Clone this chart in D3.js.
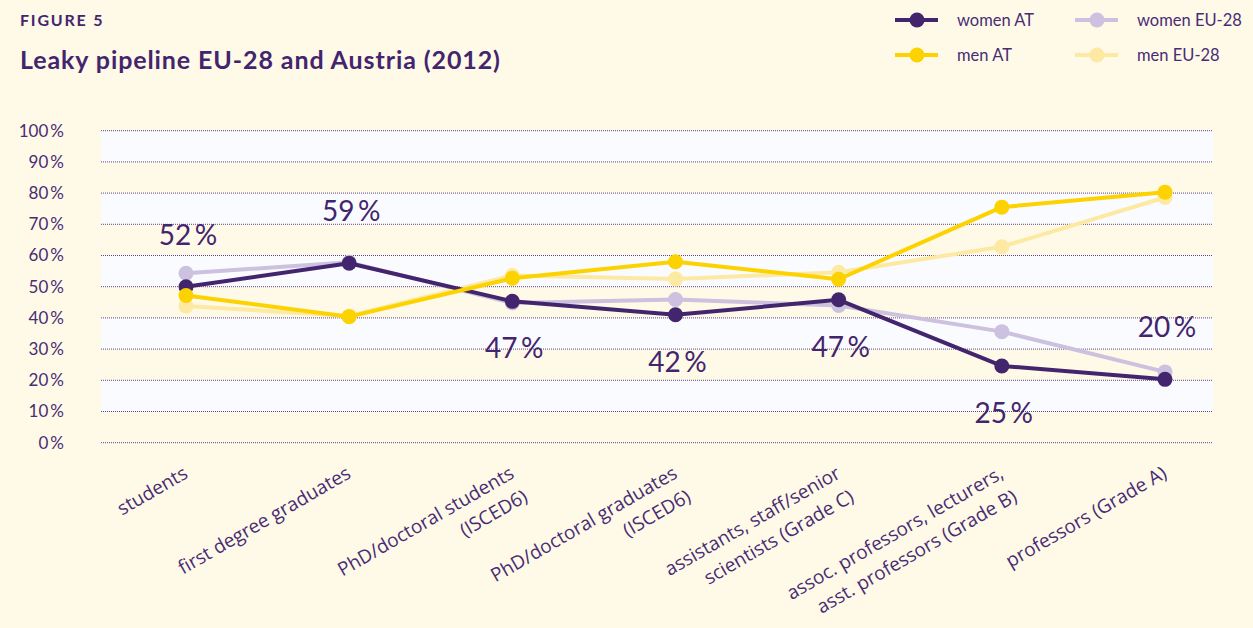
<html lang="en">
<head>
<meta charset="utf-8">
<title>Leaky pipeline</title>
<script src="https://d3js.org/d3.v7.min.js"></script>
<style>
  body { margin: 0; background: #fff9e8; }
  svg { display: block; }
</style>
</head>
<body>
<script>
// data
var categories = [
  ["students"],
  ["first degree graduates"],
  ["PhD/doctoral students", "(ISCED6)"],
  ["PhD/doctoral graduates", "(ISCED6)"],
  ["assistants, staff/senior", "scientists (Grade C)"],
  ["assoc. professors, lecturers,", "asst. professors (Grade B)"],
  ["professors (Grade A)"]
];
var womenAT = [50.0, 57.5, 45.3, 41.0, 45.8, 24.6, 20.3];
var womenEU = [54.3, 57.8, 44.8, 45.9, 44.0, 35.6, 22.7];
var menAT   = [47.2, 40.4, 52.7, 58.0, 52.4, 75.5, 80.3];
var menEU   = [43.8, 40.6, 53.6, 52.5, 54.6, 62.8, 78.6];
var womenLabels = ["52\u2009%", "59\u2009%", "47\u2009%", "42\u2009%", "47\u2009%", "25\u2009%", "20\u2009%"];
var labelSide   = ["above", "above", "below", "below", "below", "below", "above"];
var yTicks = [0, 10, 20, 30, 40, 50, 60, 70, 80, 90, 100];

var series = [
  {name: "women EU-28", values: womenEU, color: "#ccc1de"},
  {name: "men EU-28",   values: menEU,   color: "#fde9a2"},
  {name: "women AT",    values: womenAT, color: "#43256e"},
  {name: "men AT",      values: menAT,   color: "#fcd200"}
];

var width = 1253, height = 628;
var purple = "#43256e";
var textPurple = "#472d74";

var svg = d3.select("body").append("svg")
  .attr("width", width).attr("height", height);

svg.append("rect").attr("width", width).attr("height", height).attr("fill", "#fff9e8");

var x = d3.scalePoint()
  .domain(d3.range(categories.length))
  .range([186, 1165]);
var y = d3.scaleLinear().domain([0, 100]).range([442.7, 130.7]);
var left = 101, right = 1213;

// alternating bands
svg.append("g").selectAll("rect")
  .data(yTicks.filter(function(d) { return d < 100 && (d / 10) % 2 == 1; }))
  .enter().append("rect")
  .attr("x", left).attr("width", right - left)
  .attr("y", function(d) { return y(d + 10); })
  .attr("height", function(d) { return y(d) - y(d + 10); })
  .attr("fill", "#fafbfe");

// gridlines + tick labels
var grid = svg.append("g");
grid.selectAll("line")
  .data(yTicks).enter().append("line")
  .attr("x1", left).attr("x2", right)
  .attr("y1", function(d) { return y(d); })
  .attr("y2", function(d) { return y(d); })
  .attr("stroke", "#5b4588")
  .attr("stroke-width", 1)
  .attr("stroke-dasharray", "1,1");
grid.selectAll("text")
  .data(yTicks).enter().append("text")
  .attr("x", 64)
  .attr("y", function(d) { return y(d); })
  .attr("dy", "0.35em")
  .attr("text-anchor", "end")
  .attr("font-family", "Lato, sans-serif")
  .attr("font-size", 17)
  .attr("fill", textPurple)
  .text(function(d) { return d + "\u2009%"; });

// lines and dots
var line = d3.line()
  .x(function(d, i) { return x(i); })
  .y(function(d) { return y(d); });

series.forEach(function(s) {
  var g = svg.append("g");
  g.append("path")
    .attr("d", line(s.values))
    .attr("fill", "none")
    .attr("stroke", s.color)
    .attr("stroke-width", 4)
    .attr("stroke-linejoin", "round");
  g.selectAll("circle")
    .data(s.values).enter().append("circle")
    .attr("cx", function(d, i) { return x(i); })
    .attr("cy", function(d) { return y(d); })
    .attr("r", 7.5)
    .attr("fill", s.color);
});

// value labels for women AT
svg.append("g").selectAll("text")
  .data(womenLabels).enter().append("text")
  .attr("x", function(d, i) { return x(i) + 2; })
  .attr("y", function(d, i) {
    return labelSide[i] == "above" ? y(womenAT[i]) - 42 : y(womenAT[i]) + 57;
  })
  .attr("text-anchor", "middle")
  .attr("font-family", "Lato, sans-serif")
  .attr("font-weight", 400)
  .attr("font-size", 28)
  .attr("fill", purple)
  .text(function(d) { return d; });

// category labels, rotated
var xl = svg.append("g");
categories.forEach(function(lines, i) {
  var t = xl.append("text")
    .attr("transform", "translate(" + (x(i) + 3) + ",477) rotate(-30)")
    .attr("text-anchor", "end")
    .attr("font-family", "'Open Sans', sans-serif")
    .attr("font-size", 19)
    .attr("fill", textPurple);
  lines.forEach(function(l, j) {
    t.append("tspan")
      .attr("x", 0)
      .attr("dy", j == 0 ? 0 : 27)
      .text(l);
  });
});

// titles
svg.append("text")
  .attr("x", 20).attr("y", 26)
  .attr("font-family", "Lato, sans-serif")
  .attr("font-weight", 700)
  .attr("font-size", 16)
  .attr("letter-spacing", 1.8)
  .attr("fill", purple)
  .text("FIGURE 5");
svg.append("text")
  .attr("x", 20).attr("y", 69)
  .attr("font-family", "Lato, sans-serif")
  .attr("font-weight", 700)
  .attr("font-size", 25)
  .attr("letter-spacing", 0.9)
  .attr("fill", purple)
  .text("Leaky pipeline EU-28 and Austria (2012)");

// legend
var legendItems = [
  {name: "women AT", color: "#43256e", lx: 895, ly: 20},
  {name: "women EU-28", color: "#ccc1de", lx: 1075, ly: 20},
  {name: "men AT", color: "#fcd200", lx: 895, ly: 55},
  {name: "men EU-28", color: "#fde9a2", lx: 1075, ly: 55}
];
var lg = svg.append("g").selectAll("g")
  .data(legendItems).enter().append("g")
  .attr("transform", function(d) { return "translate(" + d.lx + "," + d.ly + ")"; });
lg.append("line")
  .attr("x1", 0).attr("x2", 43)
  .attr("stroke", function(d) { return d.color; })
  .attr("stroke-width", 4);
lg.append("circle")
  .attr("cx", 22).attr("r", 7.5)
  .attr("fill", function(d) { return d.color; });
lg.append("text")
  .attr("x", 62).attr("dy", "0.35em")
  .attr("font-family", "Lato, sans-serif")
  .attr("font-size", 16.5)
  .attr("fill", textPurple)
  .text(function(d) { return d.name; });
</script>
</body>
</html>
